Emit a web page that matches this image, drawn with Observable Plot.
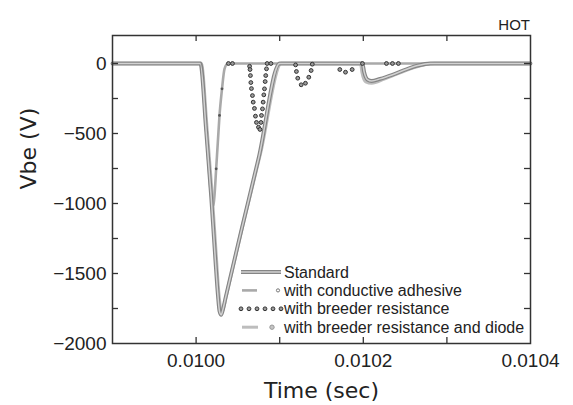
<!DOCTYPE html>
<html><head><meta charset="utf-8">
<script src="https://cdn.jsdelivr.net/npm/d3@7"></script>
<script src="https://cdn.jsdelivr.net/npm/@observablehq/plot@0.6"></script>
<style>
body{margin:0;background:#fff;}
#wrap{position:relative;width:573px;height:405px;}
#overlay{position:absolute;left:0;top:0;pointer-events:none;}
</style></head><body><div id="wrap"></div>
<script>
// ---- data ----
const seriesNames = ["Standard", "with conductive adhesive", "with breeder resistance", "with breeder resistance and diode"];
const cornerLabel = "HOT";
const xTitle = "Time (sec)";
const yTitle = "Vbe (V)";

const stdT = [0.0099, 0.010005, 0.010012, 0.010018, 0.010023, 0.010026, 0.010028, 0.010030, 0.010032, 0.010035, 0.010055, 0.010075, 0.010100, 0.010199, 0.010201, 0.010205, 0.010210, 0.010220, 0.010235, 0.010250, 0.010265, 0.010280, 0.0104];
const stdV = [0, 0, -480, -950, -1400, -1650, -1770, -1795, -1760, -1680, -1170, -670, 0, 0, -60, -115, -125, -110, -80, -45, -15, 0, 0];

const condT = [0.0099, 0.010005, 0.010012, 0.010018, 0.0100196, 0.010021, 0.010022, 0.010024, 0.010026, 0.010028, 0.010031, 0.010034, 0.010038, 0.0104];
const condV = [0, 0, -480, -950, -1020, -1000, -943, -752, -562, -371, -181, -38, 0, 0];

const diodeT = [0.0099, 0.010006, 0.010013, 0.010019, 0.010024, 0.010027, 0.0100305, 0.010033, 0.010036, 0.010056, 0.010077, 0.010102, 0.010197, 0.0101985, 0.010203, 0.010210, 0.010225, 0.010240, 0.010260, 0.010275, 0.010285, 0.0104];
const diodeV = [0, 0, -470, -930, -1380, -1640, -1780, -1740, -1660, -1150, -640, 0, 0, -60, -130, -140, -110, -75, -30, -5, 0, 0];

const brT = [0.0100387, 0.0100435, 0.0100640, 0.0100645, 0.0100650, 0.0100655, 0.0100662, 0.0100674, 0.0100683, 0.0100698, 0.0100710, 0.0100722, 0.0100746, 0.0100764, 0.0100776, 0.0100782, 0.0100794, 0.0100802, 0.0100810, 0.0100818, 0.0100826, 0.0100833, 0.0100842, 0.0100850, 0.0100895,
  0.0101190, 0.0101200, 0.0101216, 0.0101257, 0.0101308, 0.0101348, 0.0101376, 0.0101390,
  0.0101719, 0.0101787, 0.0101867,
  0.0101990, 0.0102277, 0.0102349, 0.0102420];
const brV = [0, 0, -20, -43, -86, -136, -179, -229, -276, -321, -376, -421, -455, -471, -421, -371, -324, -276, -224, -181, -129, -86, -38, 0, 0,
  -10, -57, -105, -152, -141, -98, -50, -5,
  -43, -62, -43,
  0, 0, 0, 0];

const condMarkT = [0.010024, 0.010028, 0.010031];
const condMarkV = [-752, -371, -181];

const xDomain = [0.0099, 0.0104];
const yDomain = [-2000, 200];
const xTicks = [0.0100, 0.0101, 0.0102, 0.0103];
const xTickLabels = [0.0100, 0.0102, 0.0104];
const yTicks = [-1750, -1500, -1250, -1000, -750, -500, -250, 0];
const yTickLabels = [-2000, -1500, -1000, -500, 0];

// ---- build ----
const rows = (T, V) => T.map((t, i) => ({t, v: V[i]}));
const std = rows(stdT, stdV), cond = rows(condT, condV), diode = rows(diodeT, diodeV), br = rows(brT, brV), condM = rows(condMarkT, condMarkV);
const fmtY = d => d === 0 ? "0" : "\u2212" + Math.abs(d);
const W = 573, H = 405, ML = 112, MR = 43, MT = 35, MB = 62, TICK = 6;
const fw = W - ML - MR, fh = H - MT - MB;
// tick length expressed in data units of each scale
const tx = TICK / fw * (xDomain[1] - xDomain[0]);
const ty = TICK / fh * (yDomain[1] - yDomain[0]);

const chart = Plot.plot({
  width: W, height: H,
  marginLeft: ML, marginRight: MR, marginTop: MT, marginBottom: MB,
  style: {fontFamily: "'Liberation Sans', Arial, sans-serif", fontSize: "19px", color: "#222", background: "#fff", overflow: "visible"},
  x: {domain: xDomain},
  y: {domain: yDomain},
  marks: [
    Plot.line(diode, {x: "t", y: "v", stroke: "#bdbdbd", strokeWidth: 3.4, curve: "monotone-x"}),
    Plot.line(cond, {x: "t", y: "v", stroke: "#a9a9a9", strokeWidth: 2.6, curve: "monotone-x"}),
    Plot.dot(condM, {x: "t", y: "v", r: 1.4, fill: "#555", stroke: "none"}),
    Plot.line(std, {x: "t", y: "v", stroke: "#858585", strokeWidth: 3.8, curve: "monotone-x"}),
    Plot.line(std, {x: "t", y: "v", stroke: "#d2d2d2", strokeWidth: 1.5, curve: "monotone-x"}),
    Plot.dot(br, {x: "t", y: "v", r: 1.9, fill: "#9a9a9a", stroke: "#333", strokeWidth: 1}),
    Plot.frame({stroke: "#333", strokeWidth: 1.5}),
    // inward tick marks on all four sides
    Plot.ruleX(xTicks, {x: d => d, y1: yDomain[0], y2: yDomain[0] + ty, stroke: "#333", strokeWidth: 1.3}),
    Plot.ruleX(xTicks, {x: d => d, y1: yDomain[1], y2: yDomain[1] - ty, stroke: "#333", strokeWidth: 1.3}),
    Plot.ruleY(yTicks, {y: d => d, x1: xDomain[0], x2: xDomain[0] + tx, stroke: "#333", strokeWidth: 1.3}),
    Plot.ruleY(yTicks, {y: d => d, x1: xDomain[1], x2: xDomain[1] - tx, stroke: "#333", strokeWidth: 1.3}),
    Plot.axisX(xTickLabels, {anchor: "bottom", tickSize: 0, tickPadding: 10, tickFormat: d => d.toFixed(4), label: null}),
    Plot.axisY(yTickLabels, {anchor: "left", tickSize: 0, tickPadding: 6, tickFormat: fmtY, label: null}),
    Plot.text([xTitle], {frameAnchor: "bottom", dy: 47, fontSize: 22, fontFamily: "DejaVu Sans", lineAnchor: "middle", fill: "#222"}),
    Plot.text([yTitle], {frameAnchor: "left", dx: -84, rotate: -90, fontSize: 22, fontFamily: "DejaVu Sans", lineAnchor: "middle", fill: "#222"})
  ]
});
document.getElementById("wrap").appendChild(chart);

// ---- legend and corner label overlay ----
const ov = d3.select("#wrap").append("svg").attr("id", "overlay").attr("width", W).attr("height", H)
  .style("font-family", "'Liberation Sans', Arial, sans-serif");
ov.append("text").attr("x", 530).attr("y", 30).attr("text-anchor", "end").attr("font-size", 15).attr("fill", "#222").text(cornerLabel);

const lg = ov.append("g").attr("transform", "translate(241,272)");
const rowH = 18.4;
seriesNames.forEach((name, i) => {
  const g = lg.append("g").attr("transform", `translate(0,${i * rowH})`);
  if (i === 0) {
    g.append("line").attr("x1", 0).attr("x2", 40).attr("stroke", "#858585").attr("stroke-width", 3.8);
    g.append("line").attr("x1", 0).attr("x2", 40).attr("stroke", "#d2d2d2").attr("stroke-width", 1.5);
  } else if (i === 1) {
    g.append("line").attr("x1", 1).attr("x2", 16).attr("stroke", "#a9a9a9").attr("stroke-width", 2.6);
    g.append("circle").attr("cx", 37).attr("r", 1.6).attr("fill", "#fff").attr("stroke", "#777");
  } else if (i === 2) {
    d3.range(6).forEach(k => g.append("circle").attr("cx", k * 8).attr("r", 1.9).attr("fill", "#9a9a9a").attr("stroke", "#333"));
  } else {
    g.append("line").attr("x1", 1).attr("x2", 17).attr("stroke", "#bdbdbd").attr("stroke-width", 3);
    g.append("circle").attr("cx", 31).attr("r", 2.2).attr("fill", "#c4c4c4").attr("stroke", "#999");
  }
  g.append("text").attr("x", 43).attr("y", 5.5).attr("font-size", 16).attr("fill", "#222").text(name);
});
</script>
</body></html>
